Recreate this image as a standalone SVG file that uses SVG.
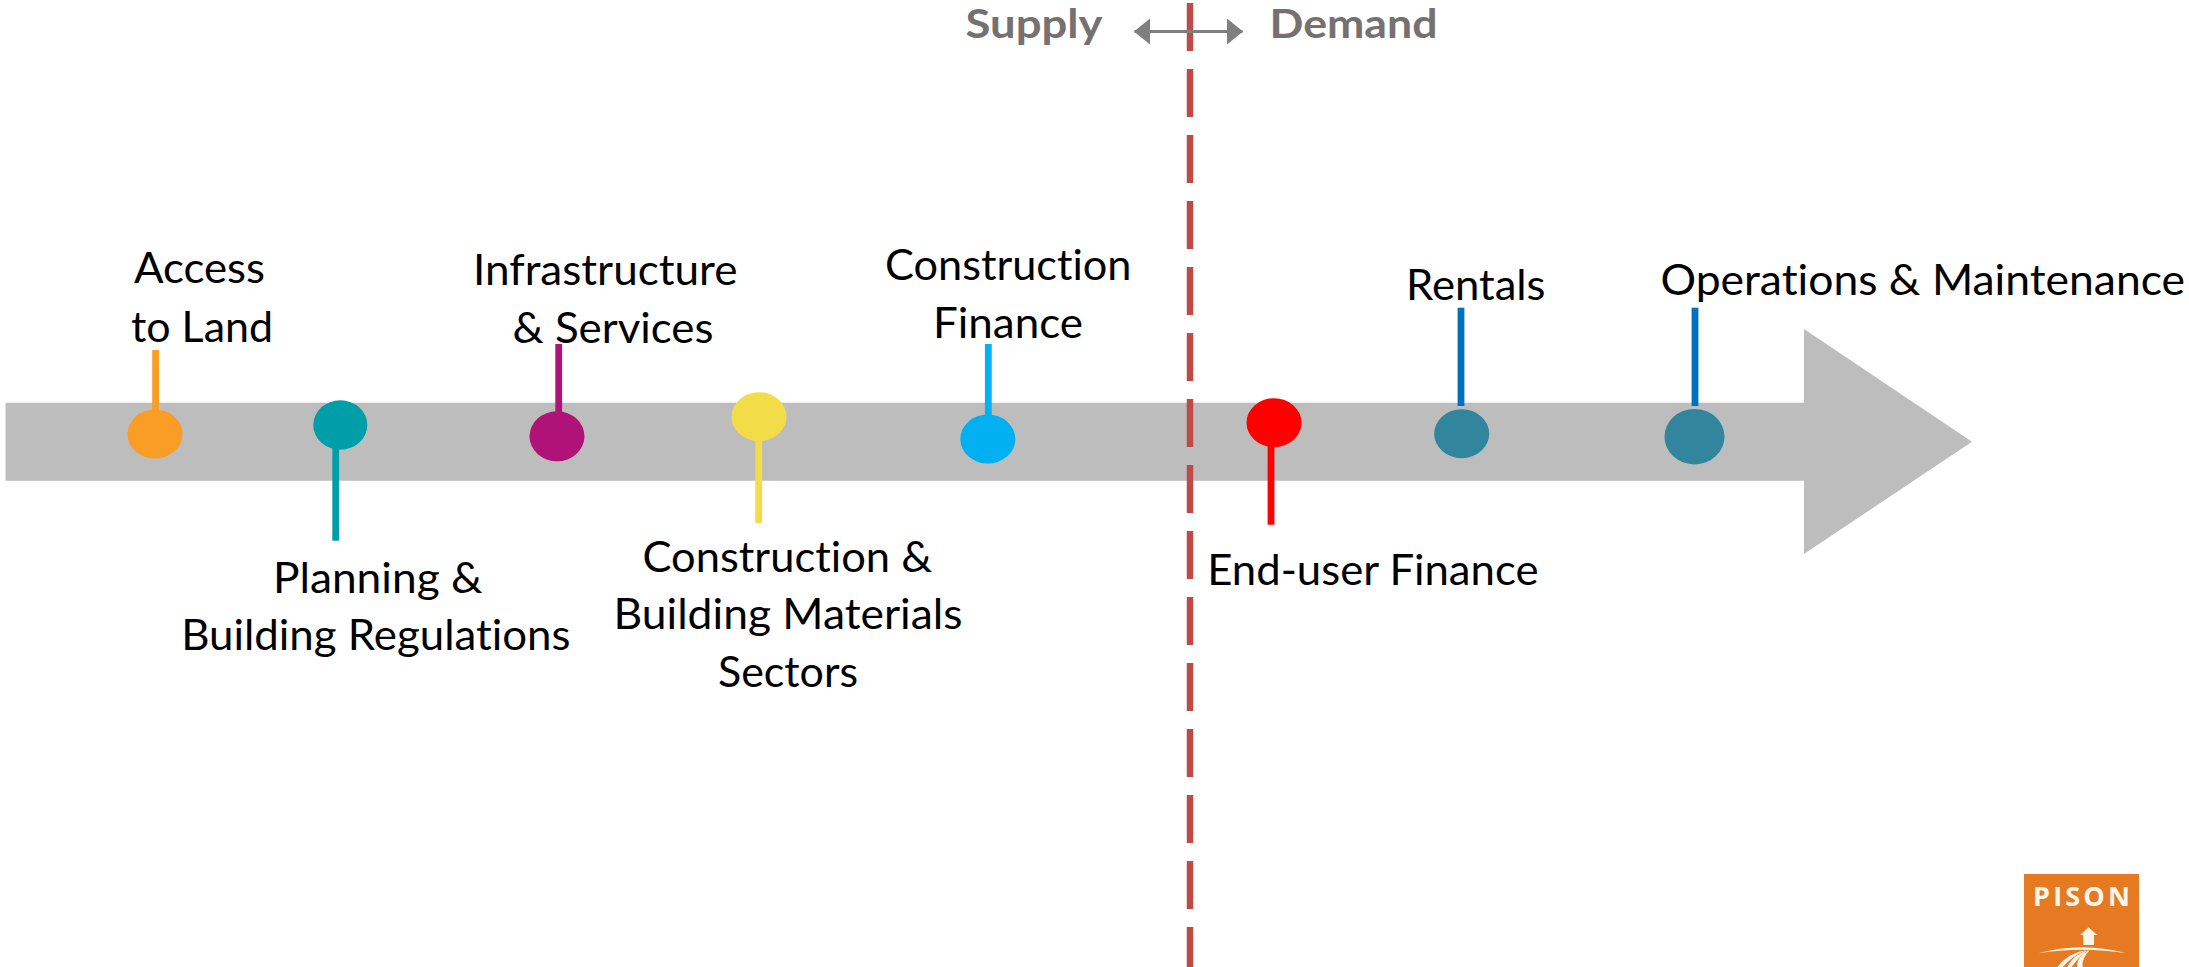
<svg xmlns="http://www.w3.org/2000/svg" width="2189" height="967" viewBox="0 0 2189 967">
<style>
text{font-family:Lato,"Liberation Sans",sans-serif;font-variant-ligatures:none}
.l{font-size:42px;fill:#000}
.h{font-size:41px;font-weight:700;fill:#767171}
.s{stroke-width:6.8;fill:none}
</style>
<defs>
<marker id="ah" markerUnits="userSpaceOnUse" markerWidth="17" markerHeight="28" refX="15.5" refY="14" orient="auto-start-reverse"><path d="M0,1 L16,14 L0,27Z" fill="#7F7F7F"/></marker>
</defs>
<rect width="2189" height="967" fill="#fff"/>
<polygon id="timeline-arrow" points="5.5,402.7 1804,402.7 1804,329 1972,441.7 1804,554 1804,480.7 5.5,480.7" fill="#BDBDBD"/>
<g id="connectors">
<line x1="1190" y1="3" x2="1190" y2="967" stroke="#BE4B48" stroke-width="6.5" stroke-dasharray="48 18"/>
<line x1="1134.5" y1="31.5" x2="1242.5" y2="31.5" stroke="#7F7F7F" stroke-width="2.8" marker-start="url(#ah)" marker-end="url(#ah)"/>
<line class="s" x1="155.6" y1="350" x2="155.6" y2="412" stroke="#F99D27"/>
<line class="s" x1="335.7" y1="445" x2="335.7" y2="540.7" stroke="#009EA8"/>
<line class="s" x1="558.7" y1="344" x2="558.7" y2="415" stroke="#B01378"/>
<line class="s" x1="758.7" y1="436" x2="758.7" y2="523" stroke="#F2DC47"/>
<line class="s" x1="988.3" y1="344" x2="988.3" y2="418" stroke="#00B0F0"/>
<line class="s" x1="1271" y1="442" x2="1271" y2="524.7" stroke="#FF0000"/>
<line class="s" x1="1461" y1="307.7" x2="1461" y2="406" stroke="#0070C0"/>
<line class="s" x1="1695" y1="307.7" x2="1695" y2="406" stroke="#0070C0"/>
</g>
<g id="supply"><text class="h" x="965.5" y="38" textLength="137" lengthAdjust="spacingAndGlyphs">Supply</text></g>
<g id="demand"><text class="h" x="1269.5" y="38" textLength="168" lengthAdjust="spacingAndGlyphs">Demand</text></g>
<g id="access-to-land">
<ellipse cx="155" cy="434" rx="27.5" ry="24.5" fill="#F99D27"/>
<text class="l" x="134" y="283" textLength="131" lengthAdjust="spacingAndGlyphs">Access</text>
<text class="l" x="131" y="341.7" textLength="142" lengthAdjust="spacingAndGlyphs">to Land</text>
</g>
<g id="planning">
<ellipse cx="340.3" cy="425" rx="27" ry="24.7" fill="#009EA8"/>
<text class="l" x="273" y="593" textLength="209.5" lengthAdjust="spacingAndGlyphs">Planning &amp;</text>
<text class="l" x="181.2" y="650" textLength="389.3" lengthAdjust="spacingAndGlyphs">Building Regulations</text>
</g>
<g id="infrastructure">
<ellipse cx="557" cy="436.3" rx="27.5" ry="25" fill="#B01378"/>
<text class="l" x="473" y="285" textLength="264.5" lengthAdjust="spacingAndGlyphs">Infrastructure</text>
<text class="l" x="512.5" y="342.7" textLength="201" lengthAdjust="spacingAndGlyphs">&amp; Services</text>
</g>
<g id="construction-materials">
<ellipse cx="759" cy="416.7" rx="27.5" ry="24.5" fill="#F2DC47"/>
<text class="l" x="642.5" y="571.7" textLength="289.6" lengthAdjust="spacingAndGlyphs">Construction &amp;</text>
<text class="l" x="613.5" y="629" textLength="349" lengthAdjust="spacingAndGlyphs">Building Materials</text>
<text class="l" x="718" y="687" textLength="140" lengthAdjust="spacingAndGlyphs">Sectors</text>
</g>
<g id="construction-finance">
<ellipse cx="987.8" cy="439" rx="27.5" ry="24.5" fill="#00B0F0"/>
<text class="l" x="885" y="280" textLength="246.5" lengthAdjust="spacingAndGlyphs">Construction</text>
<text class="l" x="933" y="338" textLength="150" lengthAdjust="spacingAndGlyphs">Finance</text>
</g>
<g id="end-user-finance">
<ellipse cx="1274" cy="422.7" rx="27.5" ry="24.5" fill="#FF0000"/>
<text class="l" x="1207.2" y="585" textLength="331.3" lengthAdjust="spacingAndGlyphs">End-user Finance</text>
</g>
<g id="rentals">
<ellipse cx="1461.7" cy="433.7" rx="27.5" ry="24.5" fill="#31859C"/>
<text class="l" x="1406" y="300" textLength="139.5" lengthAdjust="spacingAndGlyphs">Rentals</text>
</g>
<g id="operations">
<ellipse cx="1694.5" cy="436.7" rx="30" ry="27.7" fill="#31859C"/>
<text class="l" x="1660.5" y="295" textLength="524.5" lengthAdjust="spacingAndGlyphs">Operations &amp; Maintenance</text>
</g>
<g id="logo">
<rect x="2024" y="874" width="115" height="93" fill="#E57A22"/>
<text x="2033" y="906" font-size="27" font-weight="700" fill="#FFF6EA" textLength="97" style="font-family:'Open Sans','Liberation Sans',sans-serif">PISON</text>
<g transform="translate(1950 840) scale(.3333)" fill="#FFF6EA">
<path d="M415,262 L442,285 L432,285 L432,315 L400,315 L400,285 L391,285Z"/>
<path d="M265,340 Q395,304 530,340 Q395,318 265,340Z"/>
<path d="M322,381 Q355,338 410,330 Q370,345 338,381Z"/>
<path d="M352,381 Q368,345 415,330 Q384,352 365,381Z"/>
<path d="M382,381 Q378,350 420,330 Q394,355 398,381Z"/>
</g>
</g>
</svg>
